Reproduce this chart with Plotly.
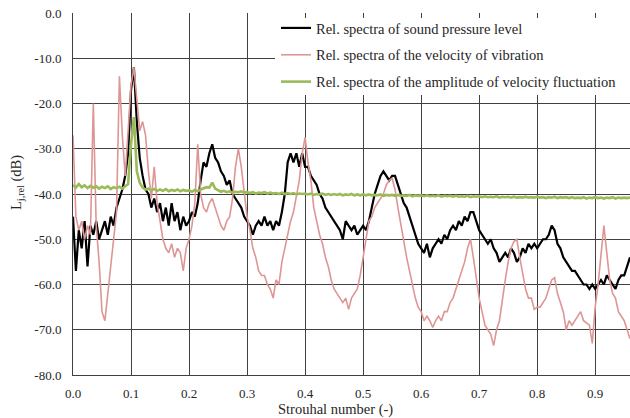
import plotly.graph_objects as go

# Strouhal number grid (step 0.005 from 0.000 to 0.960)
ST_STEP = 0.005
N_PTS = 193
strouhal = [round(i * ST_STEP, 3) for i in range(N_PTS)]

# Rel. spectra of sound pressure level (dB)
spl = [
    -45, -57, -48, -52, -46, -56, -47, -49, -46, -50,
    -48, -46, -49, -45, -47, -43, -41, -39, -36, -31,
    -17, -12, -24, -32, -36, -39, -40, -43, -41, -44,
    -42, -46, -43, -47, -42, -46, -44, -48, -45, -47,
    -46, -44, -45, -42, -37, -33, -34, -31, -29, -32,
    -33, -35, -36, -38, -37, -40, -41, -42, -43, -45,
    -46, -47, -49, -47, -46, -47, -45, -47, -46, -48,
    -46, -47, -44, -40, -33, -31, -33, -31, -34, -31,
    -34, -34, -36, -37, -38, -40, -41, -43, -44, -45,
    -46, -47, -48, -50, -46, -47, -48, -47, -49, -48,
    -47, -48, -46, -43, -40, -38, -36, -35, -36, -37,
    -36, -36, -38, -40, -42, -43, -45, -47, -49, -51,
    -52, -53, -51, -54, -52, -51, -50, -51, -49, -50,
    -48, -47, -48, -46, -47, -45, -46, -44, -44, -46,
    -48, -49, -50, -51, -50, -52, -53, -55, -54, -53,
    -54, -52, -53, -55, -54, -52, -53, -51, -52, -51,
    -52, -51, -50, -50, -49, -47, -48, -51, -52, -54,
    -55, -56, -57, -57, -58, -59, -60, -60, -61, -60,
    -61, -60, -59, -60, -58, -59, -60, -61, -59, -58,
    -58, -56, -54,
]

# Rel. spectra of the velocity of vibration (dB)
vib = [
    -27, -45, -48, -46, -50, -47, -49, -20, -47, -55,
    -66, -68, -62, -56, -49, -44, -14, -27, -36, -27,
    -16, -12, -20, -26, -24, -27, -35, -41, -34, -42,
    -46, -50, -52, -53, -51, -54, -52, -53, -57, -52,
    -50, -47, -42, -29, -40, -43, -44, -42, -41, -43,
    -45, -47, -48, -46, -45, -41, -34, -30, -34, -40,
    -45, -48, -52, -54, -57, -58, -58, -60, -61, -63,
    -59, -60, -55, -52, -49, -46, -44, -40, -37, -31,
    -27.5, -33, -37, -43, -46, -49, -51, -54, -56, -59,
    -61, -62, -63, -64, -63, -65.5, -63, -62, -61, -58,
    -54, -49, -46, -45, -43, -42, -41, -40, -38, -37,
    -36.5, -39, -43, -47, -50, -54, -57, -60, -63, -65,
    -66, -68, -67, -68, -69.5, -68, -67, -68, -66, -66,
    -64, -63, -61, -59, -57, -55, -52, -50, -54, -59,
    -63, -66, -69, -70, -71, -73.5, -70, -68, -63, -59,
    -55, -52, -50.5, -50, -54, -58, -61, -63, -63, -65.5,
    -65, -65, -64, -63, -61, -59, -58.5, -62, -64, -66,
    -70, -68, -69, -68, -67, -66, -68, -68.5, -69, -73,
    -65, -60, -53, -47, -53, -59, -62, -63, -66, -67,
    -68, -70, -72,
]

# Rel. spectra of the amplitude of velocity fluctuation (dB)
vel_fluct = [
    -38.0, -38.6, -37.8, -38.5, -38.1, -38.7, -38.2, -38.6, -38.3, -38.8,
    -38.4, -38.7, -38.3, -38.9, -38.5, -38.7, -38.4, -38.8, -38.3, -37.8,
    -29.0, -23.0, -35.0, -37.5, -38.6, -39.0, -38.8, -39.2, -38.9, -39.3,
    -39.0, -39.3, -38.9, -39.4, -39.1, -39.3, -39.0, -39.4, -39.1, -39.3,
    -39.2, -39.5, -39.1, -39.4, -39.0, -38.8, -38.5, -38.6, -37.5, -38.8,
    -39.2, -39.5, -39.3, -39.6, -39.4, -39.7, -39.5, -39.6, -39.4, -39.7,
    -39.6, -39.8, -39.6, -39.9, -39.7, -39.8, -39.6, -39.9, -39.7, -39.9,
    -39.8, -40.0, -39.7, -40.0, -39.8, -40.0, -39.8, -40.1, -39.9, -40.0,
    -39.9, -40.1, -39.9, -40.2, -40.0, -40.1, -39.9, -40.2, -40.0, -40.2,
    -40.0, -40.2, -40.0, -40.3, -40.1, -40.2, -40.0, -40.3, -40.1, -40.3,
    -40.1, -40.3, -40.1, -40.3, -40.2, -40.3, -40.1, -40.4, -40.2, -40.3,
    -40.2, -40.4, -40.2, -40.4, -40.3, -40.4, -40.2, -40.5, -40.3, -40.4,
    -40.3, -40.5, -40.3, -40.5, -40.4, -40.5, -40.3, -40.6, -40.4, -40.5,
    -40.4, -40.6, -40.4, -40.6, -40.5, -40.6, -40.4, -40.7, -40.5, -40.6,
    -40.5, -40.7, -40.5, -40.7, -40.6, -40.7, -40.5, -40.8, -40.6, -40.7,
    -40.6, -40.8, -40.6, -40.8, -40.7, -40.8, -40.6, -40.8, -40.7, -40.8,
    -40.6, -40.8, -40.7, -40.9, -40.7, -40.8, -40.6, -40.9, -40.7, -40.8,
    -40.7, -40.9, -40.7, -40.9, -40.8, -40.9, -40.7, -41.0, -40.8, -40.9,
    -40.7, -40.9, -40.8, -41.0, -40.8, -40.9, -40.7, -41.0, -40.8, -40.9,
    -40.8, -40.9, -40.8,
]

series_names = [
    "Rel. spectra of sound pressure level",
    "Rel. spectra of the velocity of vibration",
    "Rel. spectra of the amplitude of velocity fluctuation",
]

x_tick_vals = [0.0, 0.1, 0.2, 0.3, 0.4, 0.5, 0.6, 0.7, 0.8, 0.9]
x_tick_text = ["0.0", "0.1", "0.2", "0.3", "0.4", "0.5", "0.6", "0.7", "0.8", "0.9"]
y_tick_vals = [0, -10, -20, -30, -40, -50, -60, -70, -80]
y_tick_text = ["0.0", "-10.0", "-20.0", "-30.0", "-40.0", "-50.0", "-60.0", "-70.0", "-80.0"]

FONT = "Liberation Serif"
TXT = "#262626"
GRID = "#404040"

fig = go.Figure()
fig.add_trace(go.Scatter(x=strouhal, y=spl, mode="lines", name=series_names[0],
                         legendgroup="a", line=dict(color="#000000", width=2.2)))
fig.add_trace(go.Scatter(x=strouhal, y=vib, mode="lines", name=series_names[1],
                         legendgroup="b", line=dict(color="rgb(222,150,148)", width=1.6)))
fig.add_trace(go.Scatter(x=strouhal, y=vel_fluct, mode="lines", name=series_names[2],
                         legendgroup="c", line=dict(color="rgb(155,187,89)", width=2.6)))

W, H = 630, 418
L, R, T, B = 73, 0, 13, 43
pw, ph = W - L - R, H - T - B

def px_x(px):
    return (px - L) / pw

def px_y(py):
    return (H - B - py) / ph

fig.update_layout(
    width=W, height=H,
    margin=dict(l=L, r=R, t=T, b=B),
    paper_bgcolor="white", plot_bgcolor="white",
    font=dict(family=FONT, size=13, color=TXT),
    showlegend=True,
    legend=dict(x=px_x(276), y=px_y(12), xanchor="left", yanchor="top",
                bgcolor="rgba(0,0,0,0)", font=dict(family=FONT, size=14.5, color=TXT),
                tracegroupgap=5, itemwidth=30),
    xaxis=dict(range=[0, 0.96], tickvals=x_tick_vals, ticktext=x_tick_text,
               showgrid=True, gridcolor=GRID, gridwidth=1, zeroline=False,
               showline=True, linecolor=GRID, linewidth=1, ticks="",
               ticklabelstandoff=6, tickfont=dict(family=FONT, size=13, color=TXT)),
    yaxis=dict(range=[-80, 0], tickvals=y_tick_vals, ticktext=y_tick_text,
               showgrid=True, gridcolor=GRID, gridwidth=1, zeroline=False,
               showline=True, linecolor=GRID, linewidth=1, ticks="",
               ticklabelstandoff=8, tickfont=dict(family=FONT, size=13, color=TXT)),
    shapes=[dict(type="rect", xref="paper", yref="paper",
                 x0=px_x(275), x1=1.0, y0=px_y(95), y1=px_y(18),
                 fillcolor="white", line=dict(width=0), layer="above")],
    annotations=[
        dict(text="Strouhal number (-)", xref="paper", yref="paper",
             x=px_x(335), y=px_y(409), xanchor="center", yanchor="middle",
             showarrow=False, font=dict(family=FONT, size=14.5, color=TXT)),
        dict(text="L<sub>j,rel</sub> (dB)", xref="paper", yref="paper",
             x=px_x(17), y=px_y(183), xanchor="center", yanchor="middle",
             textangle=-90, showarrow=False,
             font=dict(family=FONT, size=14.5, color=TXT)),
    ],
)

fig.write_html("out.html", config={"displayModeBar": False},
               post_script="document.body.style.margin='0';document.body.style.padding='0';")
